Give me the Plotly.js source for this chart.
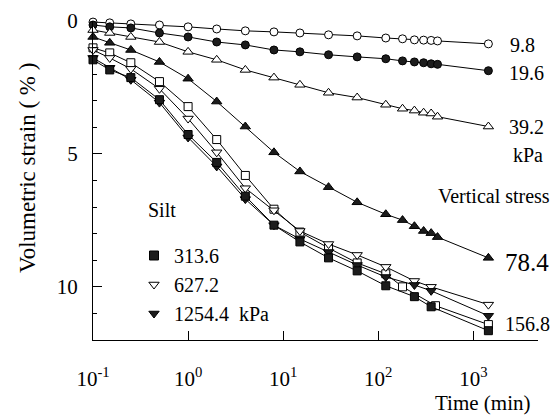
<!DOCTYPE html>
<html>
<head>
<meta charset="utf-8">
<script src="https://cdn.plot.ly/plotly-3.0.1.min.js"></script>
<style>html,body{margin:0;padding:0;background:#fff;}#chart{width:552px;height:415px;}</style>
</head>
<body>
<div id="chart"></div>
<script>
// Time (min) for the upper four series
const timeA = [0.1, 0.15, 0.25, 0.5, 1, 2, 4, 8, 15, 30, 60, 120, 180, 240, 300, 360, 420, 1440];
const strain9_8  = [0.04, 0.07, 0.11, 0.15, 0.22, 0.30, 0.37, 0.41, 0.45, 0.52, 0.56, 0.64, 0.67, 0.71, 0.72, 0.73, 0.75, 0.86];
const strain19_6 = [0.15, 0.22, 0.26, 0.45, 0.60, 0.79, 0.90, 1.09, 1.16, 1.27, 1.35, 1.42, 1.50, 1.54, 1.57, 1.61, 1.63, 1.87];
const strain39_2 = [0.34, 0.45, 0.60, 0.79, 1.16, 1.46, 1.84, 2.13, 2.40, 2.70, 2.88, 3.15, 3.30, 3.37, 3.45, 3.48, 3.60, 3.97];
const strain78_4 = [0.60, 0.82, 1.09, 1.54, 2.17, 3.03, 3.97, 4.94, 5.66, 6.25, 6.82, 7.27, 7.49, 7.72, 7.90, 7.98, 8.13, 8.91];

// Time (min) for the high-stress series
const timeB = [0.1, 0.15, 0.25, 0.5, 1, 2, 4, 8, 15, 30, 60, 120, 240, 360, 1440];
const strain313_6  = [1.46, 1.84, 2.13, 2.96, 4.27, 5.32, 6.59, 7.68, 8.31, 8.91, 9.40, 9.96, 10.37, 10.75, 11.65];
const strain627_2  = [1.09, 1.39, 1.80, 2.55, 3.67, 4.94, 6.29, 7.12, 7.90, 8.39, 8.80, 9.25, 9.78, 10.00, 10.67];
const strain1254_4 = [1.39, 1.76, 2.21, 3.07, 4.38, 5.47, 6.70, 7.68, 8.20, 8.69, 9.18, 9.63, 9.93, 10.15, 11.09];
const timeC = [0.1, 0.15, 0.25, 0.5, 1, 2, 4, 8, 15, 30, 60, 120, 180, 400, 1440];
const strain156_8  = [1.01, 1.20, 1.57, 2.28, 3.22, 4.46, 5.81, 7.08, 7.94, 8.54, 9.10, 9.51, 10.00, 10.71, 11.42];

const xTickVals = [0.1, 1, 10, 100, 1000];
const xTickText = ['10<sup>-1</sup>', '10<sup>0</sup>', '10<sup>1</sup>', '10<sup>2</sup>', '10<sup>3</sup>'];
const yTickVals = [0, 5, 10];
const legendNames = ['313.6', '627.2', '1254.4  kPa'];

const SERIF = 'Liberation Serif';
const DARK = '#1c1c1c';

function series(x, y, symbol, filled, size) {
  return {
    x: x, y: y, type: 'scatter', mode: 'lines+markers',
    line: {color: '#000', width: 1},
    marker: {symbol: symbol, size: size || 8, color: filled ? DARK : '#fff', line: {color: '#000', width: 1}},
    showlegend: false, cliponaxis: false, hoverinfo: 'skip'
  };
}
function legendOnly(name, symbol, filled) {
  return {
    x: [null], y: [null], type: 'scatter', mode: 'markers', name: name,
    marker: {symbol: symbol, size: 9, color: filled ? DARK : '#fff', line: {color: '#000', width: 1}},
    showlegend: true
  };
}

const data = [
  series(timeA, strain9_8, 'circle', false, 8),
  series(timeA, strain19_6, 'circle', true, 8),
  series(timeA, strain39_2, 'triangle-up', false, 9),
  series(timeA, strain78_4, 'triangle-up', true, 9),
  series(timeC, strain156_8, 'square', false, 8),
  series(timeB, strain627_2, 'triangle-down', false, 9),
  series(timeB, strain1254_4, 'triangle-down', true, 9),
  series(timeB, strain313_6, 'square', true, 8),
  legendOnly(legendNames[0], 'square', true),
  legendOnly(legendNames[1], 'triangle-down', false),
  legendOnly(legendNames[2], 'triangle-down', true)
];

function lab(text, px, py, size, anchor) {
  return {text: text, xref: 'paper', yref: 'paper',
    x: (px - 93) / 445, y: (340 - py) / 319,
    xanchor: anchor || 'center', yanchor: 'middle', showarrow: false,
    font: {family: SERIF, size: size || 20, color: '#000'}};
}

const layout = {
  width: 552, height: 415,
  margin: {l: 93, r: 14, t: 21, b: 75},
  paper_bgcolor: '#fff', plot_bgcolor: '#fff',
  font: {family: SERIF, color: '#000', size: 20},
  xaxis: {
    type: 'log', range: [-1, 3.68],
    tickvals: xTickVals, ticktext: xTickText,
    ticks: 'inside', ticklen: 9, tickcolor: '#000', tickwidth: 1,
    showline: true, linecolor: '#000', linewidth: 1,
    showgrid: false, zeroline: false,
    ticklabelstandoff: 20,
    tickfont: {family: SERIF, size: 21, color: '#000'}
  },
  yaxis: {
    range: [12, 0],
    tickvals: yTickVals,
    ticks: 'inside', ticklen: 9, tickcolor: '#000', tickwidth: 1,
    minor: {dtick: 1, ticks: 'inside', ticklen: 4, tickcolor: '#000'},
    showline: true, linecolor: '#000', linewidth: 1,
    showgrid: false, zeroline: false,
    ticklabelstandoff: 10,
    tickfont: {family: SERIF, size: 21, color: '#000'}
  },
  showlegend: true,
  legend: {
    x: (134 - 93) / 445, y: (340 - 236) / 319, xanchor: 'left', yanchor: 'top',
    bgcolor: 'rgba(0,0,0,0)', borderwidth: 0,
    font: {family: SERIF, size: 20, color: '#000'},
    tracegroupgap: 0, itemwidth: 30
  },
  annotations: [
    lab('9.8', 522, 45, 20),
    lab('19.6', 526, 73, 20),
    lab('39.2', 526, 127, 20),
    lab('kPa', 528, 155, 20),
    lab('Vertical stress', 494, 196, 20),
    lab('78.4', 527, 262, 25),
    lab('156.8', 527, 324, 20),
    lab('Silt', 162, 210, 20),
    lab('Time (min)', 482, 403, 21),
    Object.assign(lab('Volumetric strain ( % )', 27, 168, 23), {textangle: -90})
  ]
};

Plotly.newPlot('chart', data, layout, {staticPlot: true, displayModeBar: false});
</script>
</body>
</html>
